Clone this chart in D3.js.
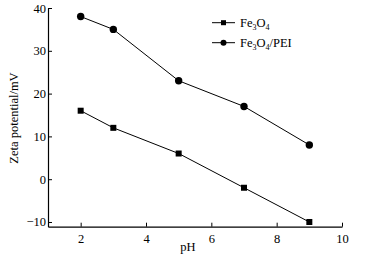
<!DOCTYPE html>
<html>
<head>
<meta charset="utf-8">
<script src="https://cdn.jsdelivr.net/npm/d3@7"></script>
<style>
  body { margin: 0; background: #fff; }
  text { font-family: "Liberation Serif", "DejaVu Serif", serif; fill: #000; }
</style>
</head>
<body>
<script>
// data
var phValues = [2, 3, 5, 7, 9];
var fe3o4 = [16, 12, 6, -2, -10];
var fe3o4Pei = [38, 35, 23, 17, 8];
var xTicks = [2, 4, 6, 8, 10];
var yTicks = [-10, 0, 10, 20, 30, 40];

var width = 382, height = 257;

var svg = d3.select("body")
  .append("svg")
    .attr("width", width)
    .attr("height", height);

var x = d3.scaleLinear()
  .domain([1, 10])
  .range([48, 342]);

var y = d3.scaleLinear()
  .domain([-11.1, 40])
  .range([226.7, 8]);

// x axis, ticks pointing inward
var xAxis = svg.append("g")
  .attr("transform", "translate(0," + 226.7 + ")")
  .call(d3.axisBottom(x).tickValues(xTicks).tickSize(-4).tickPadding(6).tickSizeOuter(0));
xAxis.selectAll("text").attr("dy", "0.85em");

// y axis
var yAxis = svg.append("g")
  .attr("transform", "translate(" + 48 + ",0)")
  .call(d3.axisLeft(y).tickValues(yTicks).tickSize(-4).tickPadding(2).tickSizeOuter(0)
    .tickFormat(function(d) { return d < 0 ? "\u2212" + Math.abs(d) : d; }));

svg.selectAll(".domain").attr("stroke", "#000").attr("stroke-width", 1.2);
svg.selectAll(".tick line").attr("stroke", "#000");
svg.selectAll(".tick text")
  .style("font-family", "Liberation Serif, serif")
  .style("font-size", "12.5px")
  .attr("fill", "#000");

// axis titles
svg.append("text")
  .attr("x", 188)
  .attr("y", 251)
  .attr("text-anchor", "middle")
  .style("font-size", "12.5px")
  .text("pH");

svg.append("text")
  .attr("transform", "translate(18,118) rotate(-90)")
  .attr("text-anchor", "middle")
  .style("font-size", "12.5px")
  .text("Zeta potential/mV");

var line = d3.line()
  .x(function(d) { return x(d[0]); })
  .y(function(d) { return y(d[1]); });

var s1 = phValues.map(function(p, i) { return [p, fe3o4[i]]; });
var s2 = phValues.map(function(p, i) { return [p, fe3o4Pei[i]]; });

// Fe3O4 series - squares
svg.append("path")
  .datum(s1)
  .attr("fill", "none")
  .attr("stroke", "#000")
  .attr("stroke-width", 1)
  .attr("d", line);
svg.append("g")
  .selectAll("rect")
  .data(s1)
  .enter()
  .append("rect")
    .attr("x", function(d) { return x(d[0]) - 3; })
    .attr("y", function(d) { return y(d[1]) - 3; })
    .attr("width", 6)
    .attr("height", 6)
    .attr("fill", "#000");

// Fe3O4/PEI series - circles
svg.append("path")
  .datum(s2)
  .attr("fill", "none")
  .attr("stroke", "#000")
  .attr("stroke-width", 1)
  .attr("d", line);
svg.append("g")
  .selectAll("circle")
  .data(s2)
  .enter()
  .append("circle")
    .attr("cx", function(d) { return x(d[0]); })
    .attr("cy", function(d) { return y(d[1]); })
    .attr("r", 3.7)
    .attr("fill", "#000");

// legend
var legend = svg.append("g");
var legendRows = [{y: 22.7, shape: "square"}, {y: 42.7, shape: "circle"}];

legendRows.forEach(function(r, i) {
  legend.append("line")
    .attr("x1", 212).attr("x2", 235)
    .attr("y1", r.y).attr("y2", r.y)
    .attr("stroke", "#000");
  if (r.shape == "square") {
    legend.append("rect")
      .attr("x", 221).attr("y", r.y - 2.5)
      .attr("width", 5).attr("height", 5)
      .attr("fill", "#000");
  } else {
    legend.append("circle")
      .attr("cx", 223.5).attr("cy", r.y)
      .attr("r", 3).attr("fill", "#000");
  }
  var t = legend.append("text")
    .attr("x", 240)
    .attr("y", r.y + 4)
    .style("font-size", "12.5px");
  t.append("tspan").text("Fe");
  t.append("tspan").attr("dy", 3).style("font-size", "8px").text("3");
  t.append("tspan").attr("dy", -3).text("O");
  t.append("tspan").attr("dy", 3).style("font-size", "8px").text("4");
  if (i == 1) t.append("tspan").attr("dy", -3).text("/PEI");
});
</script>
</body>
</html>
